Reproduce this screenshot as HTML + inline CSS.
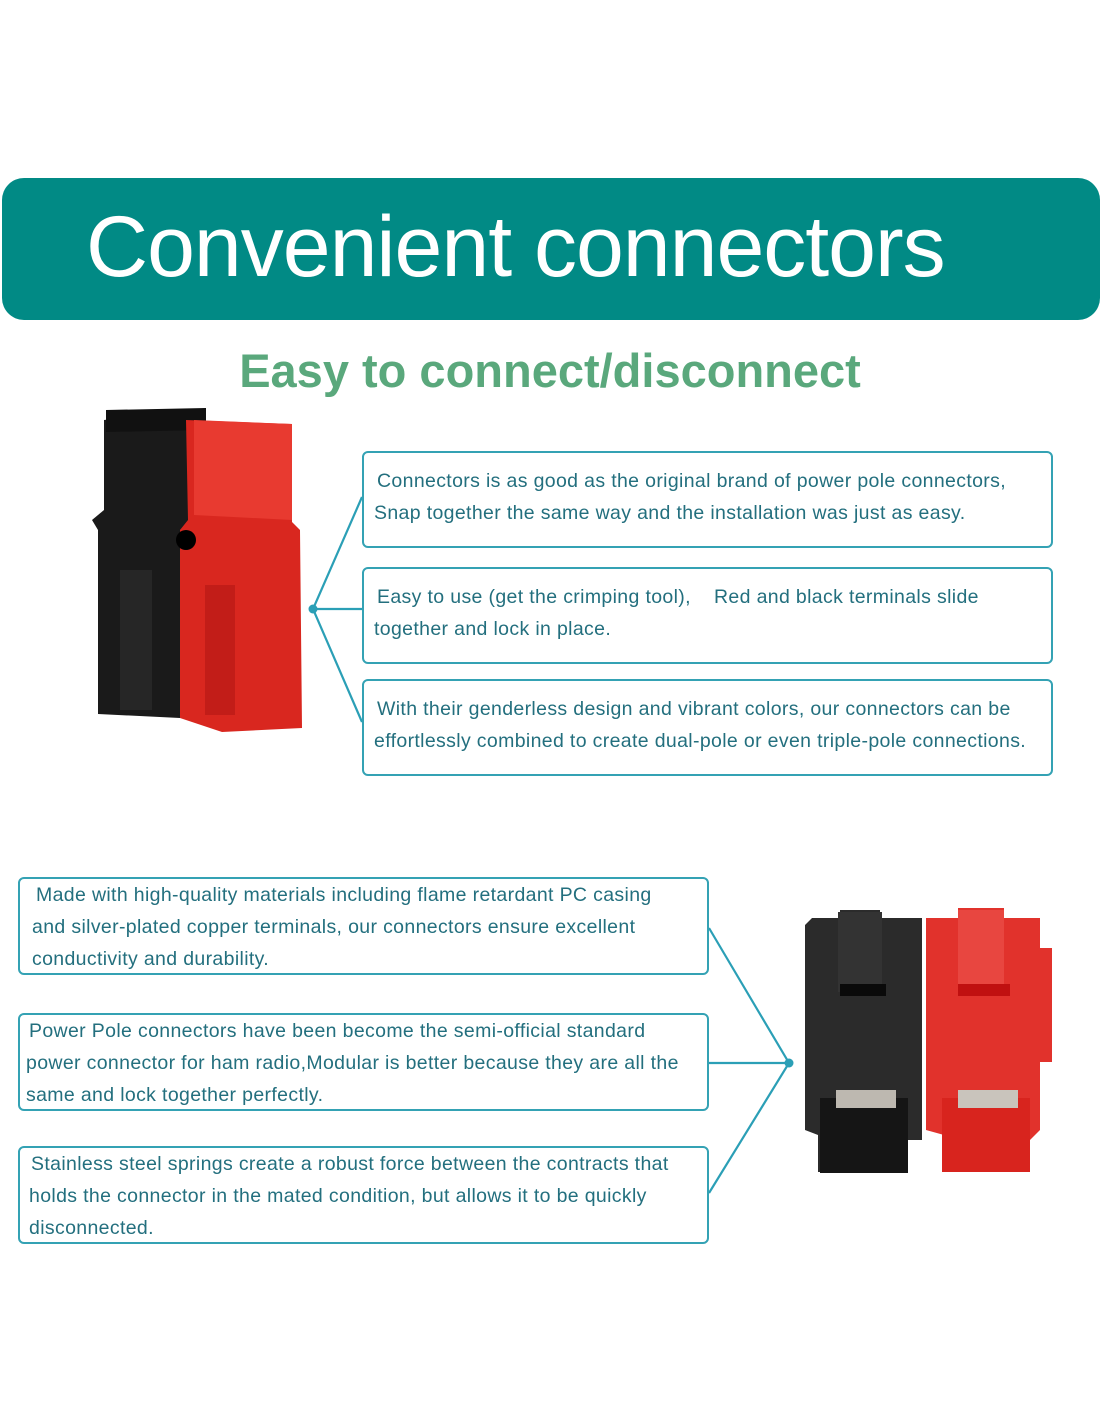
<!DOCTYPE html>
<html><head><meta charset="utf-8"><style>
body{margin:0;width:1100px;height:1422px;background:#fff;position:relative;overflow:hidden;font-family:"Liberation Sans","DejaVu Sans",sans-serif}
.banner{position:absolute;left:2px;top:178px;width:1098px;height:142px;background:#018a85;border-radius:22px}
.title{position:absolute;left:86px;top:198px;font-size:86px;color:#fff;letter-spacing:-1px;white-space:nowrap}
.sub{position:absolute;left:0;width:1100px;top:343px;text-align:center;font-size:47px;color:#5aa87c;font-weight:bold;white-space:nowrap;padding-left:0}
.box{position:absolute;border:2px solid #34a2b4;border-radius:6px;box-sizing:border-box;font-size:19.5px;letter-spacing:0.35px;line-height:32px;color:#236f7e;padding:12px 10px;white-space:nowrap}
svg{position:absolute;left:0;top:0}
</style></head><body>
<div class="banner"></div>
<div class="title">Convenient connectors</div>
<div class="sub">Easy to connect/disconnect</div>
<svg width="1100" height="1422">
<path d="M104 420 L206 408 L206 520 L180 530 L180 718 L98 714 L98 530 L92 520 L104 510Z" fill="#1a1a1a"/>
<path d="M106 410 L206 408 L206 430 L106 432Z" fill="#111"/>
<path d="M186 420 L292 424 L292 522 L300 530 L302 728 L222 732 L180 718 L180 530 L188 520Z" fill="#d9271f"/>
<path d="M194 420 L292 424 L292 520 L194 515Z" fill="#e83a30"/>
<rect x="205" y="585" width="30" height="130" fill="#c21d18"/>
<rect x="120" y="570" width="32" height="140" fill="#262626"/>
<circle cx="186" cy="540" r="10" fill="#000"/>
<path d="M812 918 L840 918 L840 910 L880 910 L880 918 L922 918 L922 1140 L902 1140 L902 1172 L818 1172 L818 1135 L805 1130 L805 925Z" fill="#2b2b2b"/>
<rect x="838" y="912" width="44" height="80" fill="#333"/>
<rect x="840" y="984" width="46" height="12" fill="#0a0a0a"/>
<rect x="820" y="1098" width="88" height="75" fill="#151515"/>
<rect x="836" y="1090" width="60" height="18" fill="#bdb8b0"/>
<path d="M926 918 L958 918 L958 908 L1004 908 L1004 918 L1040 918 L1040 948 L1052 948 L1052 1062 L1040 1062 L1040 1130 L1030 1140 L1030 1172 L944 1172 L944 1135 L926 1130Z" fill="#e1322c"/>
<rect x="958" y="910" width="46" height="80" fill="#e84640"/>
<rect x="958" y="984" width="52" height="12" fill="#c01010"/>
<rect x="942" y="1098" width="88" height="74" fill="#d8241e"/>
<rect x="958" y="1090" width="60" height="18" fill="#c9c4bc"/>
<g stroke="#2b9fb6" stroke-width="2.2" fill="none">
<path d="M362 497 L313 609 L362 722 M313 609 L362 609"/>
<path d="M709 928 L789 1063 L709 1193 M789 1063 L709 1063"/>
</g>
<circle cx="313" cy="609" r="4.5" fill="#2b9fb6"/>
<circle cx="789" cy="1063" r="4.5" fill="#2b9fb6"/>
</svg>
<div class="box" style="left:362px;top:451px;width:691px;height:97px"><span style="padding-left:3px">Connectors is as good as the original brand of power pole connectors,</span><br>Snap together the same way and the installation was just as easy.</div>
<div class="box" style="left:362px;top:567px;width:691px;height:97px"><span style="padding-left:3px">Easy to use (get the crimping tool),&nbsp;&nbsp;&nbsp;&nbsp;Red and black terminals slide</span><br>together and lock in place.</div>
<div class="box" style="left:362px;top:679px;width:691px;height:97px"><span style="padding-left:3px">With their genderless design and vibrant colors, our connectors can be</span><br>effortlessly combined to create dual-pole or even triple-pole connections.</div>
<div class="box" style="left:18px;top:877px;width:691px;height:98px;padding-left:12px;padding-top:0;line-height:32px"><span style="padding-left:4px">Made with high-quality materials including flame retardant PC casing</span><br>and silver-plated copper terminals, our connectors ensure excellent<br>conductivity and durability.</div>
<div class="box" style="left:18px;top:1013px;width:691px;height:98px;padding-left:6px;padding-top:0"><span style="padding-left:3px">Power Pole connectors have been become the semi-official standard</span><br>power connector for ham radio,Modular is better because they are all the<br>same and lock together perfectly.</div>
<div class="box" style="left:18px;top:1146px;width:691px;height:98px;padding-left:9px;padding-top:0"><span style="padding-left:2px">Stainless steel springs create a robust force between the contracts that</span><br>holds the connector in the mated condition, but allows it to be quickly<br>disconnected.</div>
</body></html>
